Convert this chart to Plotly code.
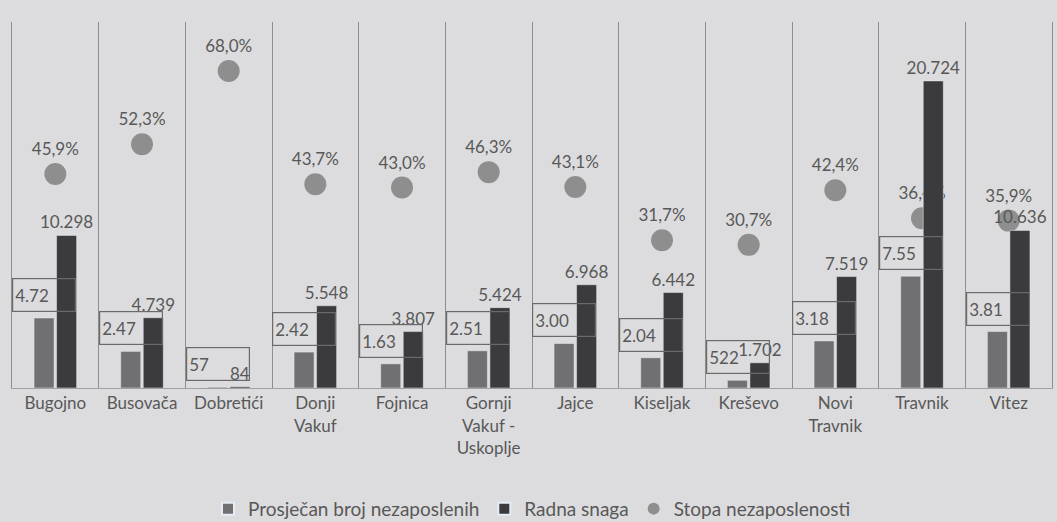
import plotly.graph_objects as go

categories = ["Bugojno", "Busovača", "Dobretići", "Donji<br>Vakuf", "Fojnica",
              "Gornji<br>Vakuf -<br>Uskoplje", "Jajce", "Kiseljak", "Kreševo",
              "Novi<br>Travnik", "Travnik", "Vitez"]
nezaposleni = [4725, 2470, 57, 2425, 1630, 2510, 3005, 2040, 522, 3180, 7550, 3810]
nezaposleni_labels = ["4.72", "2.47", "57", "2.42", "1.63", "2.51", "3.00", "2.04",
                      "522", "3.18", "7.55", "3.81"]
radna_snaga = [10298, 4739, 84, 5548, 3807, 5424, 6968, 6442, 1702, 7519, 20724, 10636]
stopa = [45.9, 52.3, 68.0, 43.7, 43.0, 46.3, 43.1, 31.7, 30.7, 42.4, 36.4, 35.9]

def fmt_thousands(v):
    return f"{v:,}".replace(",", ".")

txt_color = "#585858"
font_family = "Lato, 'Open Sans', sans-serif"
bg = "#dcdcde"
grid = "#8e8e8e"

fig = go.Figure()

# Scatter on primary (drawn below bars)
fig.add_trace(go.Scatter(
    x=categories, y=stopa, yaxis="y", mode="markers+text",
    name="Stopa nezaposlenosti",
    marker=dict(size=22, color="#8e8e8e"),
    text=[f"{v:.1f}%".replace(".", ",") for v in stopa],
    textposition="top center",
    textfont=dict(size=17, color=txt_color, family=font_family),
    cliponaxis=False, legendrank=3,
))

fig.add_trace(go.Bar(
    x=categories, y=nezaposleni, yaxis="y2", name="Prosječan broj nezaposlenih",
    marker=dict(color="#707072"), legendrank=1,
))
fig.add_trace(go.Bar(
    x=categories, y=radna_snaga, yaxis="y2", name="Radna snaga",
    marker=dict(color="#3b3b3d"),
    text=[fmt_thousands(v) for v in radna_snaga],
    textposition="outside", constraintext="none",
    textfont=dict(size=17, color=txt_color, family=font_family),
    cliponaxis=False, legendrank=2,
))

Y2MAX = 24700
annotations = []
for c, v, lab in zip(categories, nezaposleni, nezaposleni_labels):
    annotations.append(dict(
        x=c, y=v, xref="x", yref="y2", text=lab, showarrow=False,
        xshift=-11, yshift=23, width=58, height=28, align="left",
        bordercolor="#6a6a6a", borderwidth=1.2, borderpad=2,
        font=dict(size=17, color=txt_color, family=font_family),
    ))

fig.update_layout(
    width=1057, height=522,
    paper_bgcolor=bg, plot_bgcolor=bg,
    margin=dict(l=12, r=5, t=22, b=134, autoexpand=False),
    barmode="group", bargap=0.48, bargroupgap=0.11,
    font=dict(family=font_family, color=txt_color, size=17),
    xaxis=dict(tickson="boundaries", showgrid=True, gridcolor=grid, gridwidth=1.3,
               showline=True, linecolor="#a0a0a0", ticks="", tickfont=dict(size=17),
               range=[-0.5, 11.5], autorange=False),
    yaxis=dict(range=[0, 78.5], showgrid=False, zeroline=False, showticklabels=False,
               ticks="", showline=True, linecolor=grid, linewidth=1.3, mirror=True),
    yaxis2=dict(range=[0, Y2MAX], overlaying="y", visible=False, showgrid=False),
    legend=dict(orientation="h", x=0.5, xanchor="center", y=-0.33, yanchor="middle",
                traceorder="normal", font=dict(size=19, color=txt_color),
                itemsizing="constant", itemwidth=30),
    annotations=annotations,
    showlegend=True,
)

fig.write_html(
    "out.html",
    config={"displayModeBar": False},
    post_script="document.body.style.margin='0';document.body.style.background='#dcdcde';",
)
